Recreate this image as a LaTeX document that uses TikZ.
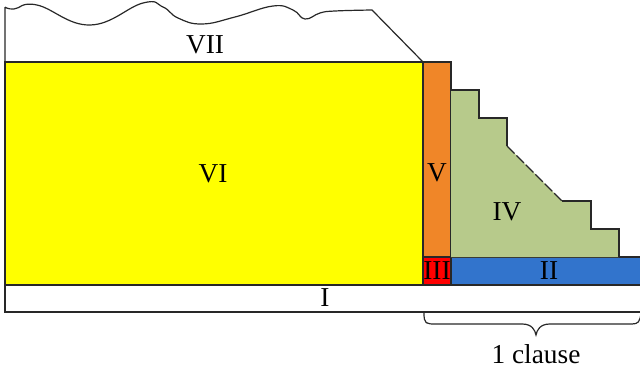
\documentclass[tikz,border=0pt]{standalone}
\usepackage{fontspec}
\setmainfont{Liberation Serif}
\definecolor{cyel}{RGB}{255,255,0}
\definecolor{corg}{RGB}{240,134,40}
\definecolor{cred}{RGB}{255,0,0}
\definecolor{cblu}{RGB}{50,116,204}
\definecolor{cgrn}{RGB}{183,202,139}
\definecolor{cln}{RGB}{40,40,40}
\begin{document}
\begin{tikzpicture}[x=0.75pt,y=-0.75pt,
  block/.style={draw=cln,line width=0.9pt},
  lab/.style={font=\fontsize{20.5}{24}\selectfont,inner sep=0pt}]
\useasboundingbox (0,0) rectangle (640,371);
% I
\draw[block,fill=white] (5,285) rectangle (645,312);
% VII
\draw[block] (5,62) -- (5,7) plot[smooth,tension=0.75] coordinates {(5,7) (14,9) (37,5) (90,25) (143,3) (163,7) (178,18) (202,24) (235,17) (273,6) (293,10) (305,19) (320,13) (335,11) (372,10)} -- (423,62);
% VI
\draw[block,fill=cyel] (5,62) rectangle (423,285);
% V
\draw[block,fill=corg] (423,62) rectangle (451,257);
% III
\draw[block,fill=cred] (423,257) rectangle (451,285);
% II
\draw[block,fill=cblu] (451,257) rectangle (645,285);
% IV
\fill[cgrn] (451,90) -- (479,90) -- (479,118) -- (507,118) -- (507,146) -- (562,201) -- (591,201) -- (591,229) -- (619,229) -- (619,257) -- (451,257) -- cycle;
\draw[block] (451,90) -- (479,90) -- (479,118) -- (507,118) -- (507,146);
\draw[block,dashed,dash pattern=on 8pt off 2pt] (507,146) -- (562,201);
\draw[block] (562,201) -- (591,201) -- (591,229) -- (619,229) -- (619,257);
% labels
\node[lab] (l7) at (205,45) {VII};
\node[lab] (l6) at (213,174) {VI};
\node[lab] (l5) at (437,173) {V};
\node[lab] (l4) at (507,212) {IV};
\node[lab] (l3) at (437,271) {III};
\node[lab] (l2) at (549,271) {II};
\node[lab] (l1) at (325,298) {I};
% brace
\draw[cln,line width=0.9pt] (424,313) .. controls (424,324) and (426,324) .. (436,324) -- (522,324) .. controls (532,324) and (535,330) .. (536,335) .. controls (537,330) and (540,324) .. (550,324) -- (632,324) .. controls (638,324) and (640,322) .. (641,313);
\node[lab] (cl) at (536,354) {1 clause};
\end{tikzpicture}
\end{document}
